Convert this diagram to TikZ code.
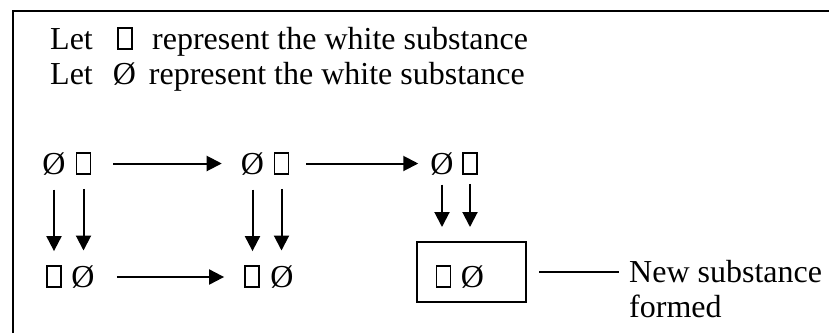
\documentclass[tikz,border=0pt]{standalone}
\usepackage{fontspec}
\setmainfont{Liberation Serif}
\usetikzlibrary{arrows.meta}
\begin{document}
\begin{tikzpicture}[x=1pt,y=-1pt,
  txt/.style={font=\fontsize{32}{35}\selectfont, inner sep=0pt},
  gl/.style={txt, anchor=center},
  sq/.style={draw, line width=1.8pt, minimum width=14pt, minimum height=21pt, inner sep=0pt},
  arr/.style={line width=2pt, -{Triangle[length=15pt,width=15pt]}},
  frame/.style={line width=2.5pt},
  outbox/.style={draw, line width=2pt, minimum width=109pt, minimum height=60pt, inner sep=0pt},
]
\useasboundingbox (0,0) rectangle (829,333);
\draw[frame] (13,333) -- (13,11) -- (829,11);

\node[txt, anchor=base west] (l1a) at (50,49) {Let};
\node[sq] (l1sq) at (125,38.5) {};
\node[txt, anchor=base west] (l1b) at (152,49) {represent the white substance};
\node[txt, anchor=base west] (l2) at (50,84) {Let\hspace{20pt}Ø\hspace{13pt}represent the white substance};

% row 1
\node[gl] (r1c1a) at (54,164) {Ø};
\node[sq] (r1c1b) at (83.5,163.5) {};
\node[gl] (r1c2a) at (252.5,164) {Ø};
\node[sq] (r1c2b) at (281.5,163.5) {};
\node[gl] (r1c3a) at (442,164) {Ø};
\node[sq] (r1c3b) at (470,163.5) {};
% row 2
\node[sq] (r2c1a) at (54,276.5) {};
\node[gl] (r2c1b) at (83,277) {Ø};
\node[sq] (r2c2a) at (252,276.5) {};
\node[gl] (r2c2b) at (282,277) {Ø};
\node[outbox] (nbox) at (471.5,272) {};
\node[sq] (r2c3a) at (443.5,276.5) {};
\node[gl] (r2c3b) at (472.5,277) {Ø};

\node[txt, anchor=base west] (ns) at (629,282) {New substance};
\node[txt, anchor=base west] (fm) at (629,317) {formed};

% horizontal arrows
\draw[arr, shorten <=22pt, shorten >=19pt] (r1c1b.east) -- (r1c1b.east -| r1c2a.west);
\draw[arr, shorten <=17pt, shorten >=12pt] (r1c2b.east) -- (r1c2b.east -| r1c3a.west);
\draw[arr, shorten <=22pt, shorten >=20pt] (r2c1b.east) -- (r2c1b.east -| r2c2a.west);
% vertical arrows
\draw[arr, shorten <=14pt, shorten >=14pt] (r1c1a.south) -- (r1c1a.south |- r2c1a.north);
\draw[arr, shorten <=14pt, shorten >=15pt] (r1c1b.south) -- (r1c1b.south |- r2c1b.north);
\draw[arr, shorten <=14pt, shorten >=14pt] (r1c2a.south) -- (r1c2a.south |- r2c2a.north);
\draw[arr, shorten <=14pt, shorten >=15pt] (r1c2b.south) -- (r1c2b.south |- r2c2b.north);
\draw[arr, shorten <=9pt, shorten >=14pt] (r1c3a.south) -- (r1c3a.south |- nbox.north);
\draw[arr, shorten <=9pt, shorten >=14pt] (r1c3b.south) -- (r1c3b.south |- nbox.north);
% connector
\draw[line width=1.6pt, shorten <=12pt, shorten >=10pt] (nbox.east) -- (nbox.east -| ns.west);
\end{tikzpicture}
\end{document}
